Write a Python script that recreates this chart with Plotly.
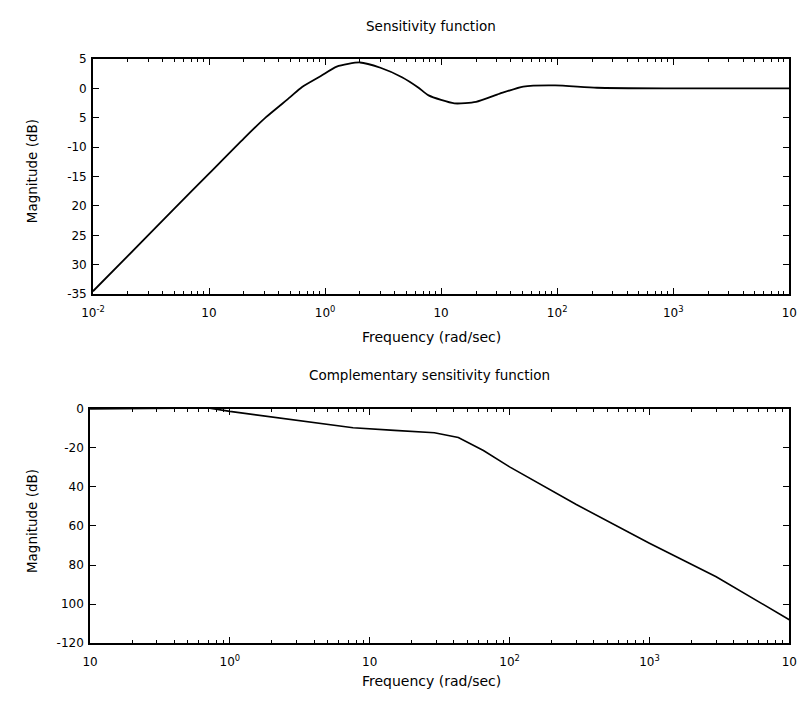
import plotly.graph_objects as go

# Sensitivity function (top)
s_freq = [0.01, 0.02, 0.05, 0.1, 0.2, 0.31, 0.5, 0.63, 0.92, 1.26, 2.0, 3.0, 4.6, 6.3, 7.8, 13, 20, 32, 51, 96, 220, 1000, 10000]
s_mag = [-34.5, -28.5, -20.5, -14.5, -8.5, -4.9, -1.5, 0.2, 2.1, 3.7, 4.4, 3.5, 1.9, 0.2, -1.2, -2.55, -2.3, -0.9, 0.3, 0.5, 0.1, 0.0, 0.0]

# Complementary sensitivity function (bottom)
t_freq = [0.1, 0.3, 0.7, 1.0, 2.0, 3.4, 7.6, 15, 29, 43, 65, 100, 300, 1000, 3000, 10000]
t_mag = [0.0, 0.3, 0.5, -1.3, -4.2, -6.3, -9.7, -11.0, -12.2, -14.7, -21.3, -29.7, -49.0, -68.8, -86.0, -108.0]

top_xticks = [0.01, 0.1, 1, 10, 100, 1000, 10000]
top_xtext = ["10<sup>-2</sup>", "10", "10<sup>0</sup>", "10", "10<sup>2</sup>", "10<sup>3</sup>", "10"]
top_yticks = [5, 0, -5, -10, -15, -20, -25, -30, -35]
top_ytext = ["5", "0", "5", "-10", "-15", "20", "25", "30", "-35"]

bot_xticks = [0.1, 1, 10, 100, 1000, 10000]
bot_xtext = ["10", "10<sup>0</sup>", "10", "10<sup>2</sup>", "10<sup>3</sup>", "10"]
bot_yticks = [0, -20, -40, -60, -80, -100, -120]
bot_ytext = ["0", "-20", "40", "60", "80", "100", "-120"]

W, H = 809, 706
FONT = "DejaVu Sans, Liberation Sans, Arial, sans-serif"


def minor_vals(decades):
    return [m * d for d in decades[:-1] for m in range(2, 10)]


fig = go.Figure()
fig.add_trace(go.Scatter(x=s_freq, y=s_mag, mode="lines", line=dict(color="black", width=1.8, shape="spline", smoothing=0.6),
                         xaxis="x", yaxis="y", showlegend=False))
fig.add_trace(go.Scatter(x=t_freq, y=t_mag, mode="lines", line=dict(color="black", width=1.6),
                         xaxis="x2", yaxis="y2", showlegend=False))


def xax(domain, rng, tv, tt, anchor):
    return dict(type="log", domain=domain, range=rng, tickmode="array", tickvals=tv, ticktext=tt,
                anchor=anchor, showline=True, linecolor="black", linewidth=1.6, mirror="ticks",
                ticks="inside", ticklen=6, tickwidth=1.2, tickcolor="black", showgrid=False,
                zeroline=False, ticklabelstandoff=7,
                tickfont=dict(size=12, color="black", family=FONT),
                minor=dict(tickmode="array", tickvals=minor_vals(tv), ticks="inside",
                           ticklen=3, tickwidth=1, tickcolor="black", showgrid=False))


def yax(domain, rng, tv, tt, anchor):
    return dict(domain=domain, range=rng, tickmode="array", tickvals=tv, ticktext=tt, anchor=anchor,
                showline=True, linecolor="black", linewidth=1.6, mirror="ticks",
                ticks="inside", ticklen=6, tickwidth=1.2, tickcolor="black", showgrid=False,
                zeroline=False, ticklabelstandoff=2,
                tickfont=dict(size=12, color="black", family=FONT))


fig.update_layout(
    width=W, height=H,
    margin=dict(l=0, r=0, t=0, b=0),
    paper_bgcolor="white", plot_bgcolor="white",
    font=dict(family=FONT, color="black", size=12),
    xaxis=xax([83 / W, 797 / W], [-2, 4], top_xticks, top_xtext, "y"),
    yaxis=yax([1 - 293 / H, 1 - 53 / H], [-35, 5], top_yticks, top_ytext, "x"),
    xaxis2=xax([80 / W, 797 / W], [-1, 4], bot_xticks, bot_xtext, "y2"),
    yaxis2=yax([1 - 649 / H, 1 - 410 / H], [-120, 0], bot_yticks, bot_ytext, "x2"),
)


def ann(text, x, y, size=14, angle=0):
    fig.add_annotation(text=text, x=x / W, y=1 - y / H, xref="paper", yref="paper",
                       showarrow=False, textangle=angle,
                       font=dict(size=size, family=FONT, color="black"),
                       xanchor="center", yanchor="middle")


ann("Sensitivity function", 430, 19, 13.5)
ann("Frequency (rad/sec)", 430, 337, 14)
ann("Complementary sensitivity function", 428, 375, 13.5)
ann("Frequency (rad/sec)", 430, 688, 14)
ann("Magnitude (dB)", 20, 168, 13.5, -90)
ann("Magnitude (dB)", 20, 525, 13.5, -90)

fig.write_html("out.html", config={"displayModeBar": False},
               post_script="document.body.style.margin='0px';")
